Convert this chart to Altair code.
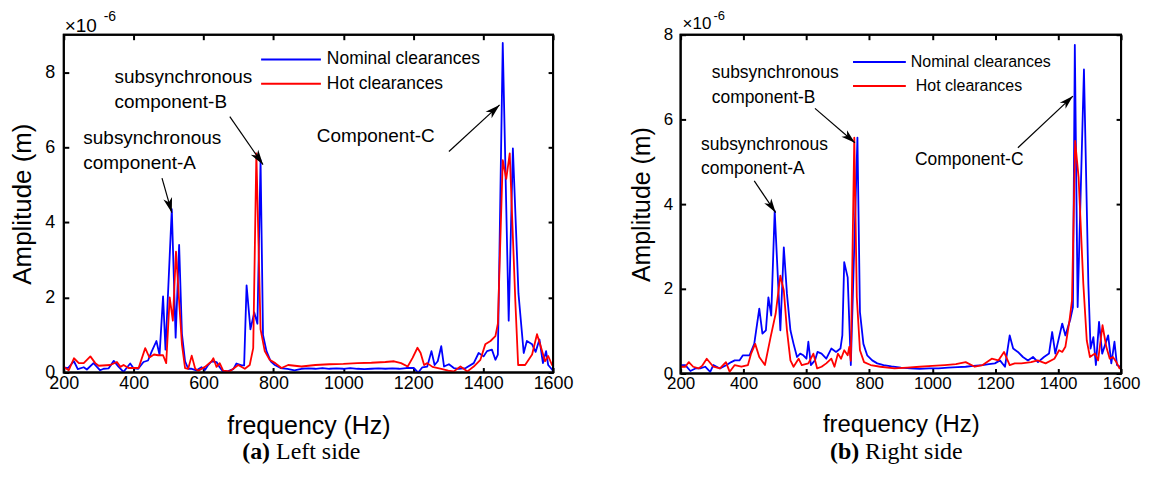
import math
import altair as alt
import pandas as pd

FONT = "Liberation Sans"
SERIF = "Liberation Serif"
INK = "black"
SERIES = ["Nominal clearances", "Hot clearances"]
COLORS = ["#0000ff", "#ff0000"]
XTICKS = [200, 400, 600, 800, 1000, 1200, 1400, 1600]

# ---------------- (a) Left side ----------------
left_nom_f = [200, 212, 229, 240, 257, 266, 285, 304, 314, 328, 343, 357, 371, 390, 399, 413, 428, 441, 451, 465,
              474, 484, 491, 509, 520, 530, 538, 547, 556, 566, 580, 594, 604, 613, 623, 637, 646, 656, 670, 685,
              694, 709, 716, 723, 734, 745, 754, 763, 770, 780, 792, 804, 820, 840, 860, 880, 900, 920, 940, 960,
              980, 1000, 1020, 1040, 1060, 1080, 1100, 1120, 1140, 1160, 1180, 1202, 1214, 1226, 1240, 1252, 1261,
              1270, 1280, 1288, 1302, 1316, 1330, 1350, 1373, 1387, 1401, 1411, 1425, 1435, 1442, 1456, 1473, 1485,
              1501, 1516, 1525, 1540, 1550, 1561, 1571, 1580, 1586, 1597, 1600]
left_nom_v = [0.14, 0.12, 0.30, 0.09, 0.14, 0.08, 0.25, 0.06, 0.10, 0.11, 0.31, 0.15, 0.02, 0.24, 0.12, 0.10, 0.28,
              0.32, 0.55, 0.84, 0.47, 2.03, 0.61, 4.35, 0.93, 3.40, 1.03, 0.30, 0.10, 0.10, 0.06, 0.14, 0.07, 0.20,
              0.30, 0.28, 0.14, 0.02, 0.04, 0.09, 0.24, 0.19, 0.19, 2.32, 1.15, 1.60, 1.30, 5.66, 1.00, 0.57, 0.30,
              0.20, 0.12, 0.10, 0.06, 0.10, 0.11, 0.10, 0.12, 0.10, 0.11, 0.10, 0.12, 0.10, 0.09, 0.10, 0.11, 0.10,
              0.11, 0.10, 0.12, 0.12, 0.00, 0.14, 0.16, 0.57, 0.20, 0.30, 0.70, 0.16, 0.22, 0.12, 0.10, 0.12, 0.25,
              0.52, 0.43, 0.57, 0.61, 0.34, 0.48, 8.78, 1.38, 5.97, 2.10, 0.52, 0.84, 0.75, 0.55, 0.88, 0.25, 0.57,
              0.20, 0.08, 0.05]
left_hot_f = [200, 214, 229, 243, 257, 276, 290, 300, 333, 352, 362, 371, 385, 414, 433, 445, 458, 470, 484, 493,
              503, 512, 521, 530, 538, 547, 556, 566, 576, 585, 604, 623, 628, 637, 646, 656, 675, 685, 699, 718,
              732, 742, 751, 763, 775, 789, 805, 823, 842, 880, 920, 960, 1000, 1040, 1080, 1120, 1145, 1165, 1184,
              1198, 1212, 1221, 1231, 1240, 1255, 1280, 1300, 1316, 1335, 1355, 1373, 1392, 1406, 1421, 1435, 1442,
              1456, 1466, 1476, 1492, 1500, 1520, 1540, 1554, 1563, 1577, 1586, 1597, 1600]
left_hot_v = [0.15, 0.06, 0.38, 0.25, 0.25, 0.43, 0.25, 0.18, 0.20, 0.28, 0.15, 0.20, 0.12, 0.12, 0.65, 0.40, 0.48,
              0.46, 0.46, 0.25, 2.00, 1.38, 3.22, 1.90, 0.75, 0.12, 0.10, 0.45, 0.10, 0.05, 0.15, 0.30, 0.38, 0.15,
              0.25, 0.05, 0.03, 0.10, 0.20, 0.10, 0.20, 0.65, 5.84, 1.15, 0.57, 0.34, 0.25, 0.12, 0.20, 0.16, 0.20,
              0.22, 0.23, 0.25, 0.26, 0.28, 0.30, 0.25, 0.16, 0.39, 0.66, 0.52, 0.20, 0.25, 0.15, 0.10, 0.05, 0.03,
              0.16, 0.03, 0.16, 0.34, 0.75, 0.84, 0.97, 1.30, 5.66, 5.16, 5.84, 1.90, 0.20, 0.20, 0.48, 1.02, 0.75,
              0.30, 0.44, 0.20, 0.18]

# ---------------- (b) Right side ----------------
right_nom_f = [200, 215, 231, 247, 262, 278, 294, 304, 325, 346, 361, 372, 387, 398, 419, 434, 450, 460, 471, 479,
               488, 499, 517, 528, 538, 549, 559, 570, 580, 590, 600, 606, 614, 627, 635, 648, 663, 679, 694, 708,
               714, 720, 731, 741, 762, 770, 781, 793, 809, 825, 845, 870, 900, 930, 960, 990, 1020, 1050, 1080,
               1106, 1130, 1160, 1180, 1199, 1215, 1231, 1246, 1257, 1272, 1288, 1304, 1320, 1336, 1355, 1371, 1381,
               1391, 1413, 1423, 1439, 1447, 1453, 1462, 1482, 1496, 1503, 1512, 1520, 1530, 1540, 1559, 1569, 1579,
               1587, 1597, 1600]
right_nom_v = [0.20, 0.20, 0.06, 0.12, 0.12, 0.16, 0.04, 0.20, 0.12, 0.20, 0.27, 0.31, 0.31, 0.43, 0.43, 0.70, 1.53,
               0.94, 1.02, 1.80, 1.37, 3.84, 1.02, 2.98, 1.88, 1.02, 0.70, 0.39, 0.47, 0.43, 0.35, 0.75, 0.20, 0.31,
               0.51, 0.47, 0.35, 0.59, 0.51, 0.59, 0.90, 2.63, 2.27, 0.20, 5.57, 1.45, 0.70, 0.43, 0.31, 0.24, 0.20,
               0.17, 0.14, 0.12, 0.11, 0.12, 0.12, 0.14, 0.15, 0.16, 0.18, 0.20, 0.22, 0.24, 0.31, 0.16, 0.90, 0.59,
               0.51, 0.39, 0.31, 0.39, 0.27, 0.39, 0.47, 0.98, 0.47, 1.18, 0.90, 1.29, 1.57, 7.76, 1.57, 7.18, 2.12,
               0.59, 0.86, 0.20, 1.22, 0.47, 0.90, 0.24, 0.75, 0.20, 0.16, 0.14]
right_hot_f = [200, 215, 226, 240, 257, 268, 283, 304, 325, 344, 356, 372, 393, 414, 424, 437, 450, 468, 486, 502,
               517, 528, 538, 549, 559, 575, 585, 606, 622, 634, 648, 663, 679, 689, 700, 710, 720, 731, 736, 741,
               752, 760, 770, 783, 804, 835, 880, 920, 960, 1000, 1040, 1075, 1106, 1135, 1160, 1189, 1210, 1228,
               1246, 1262, 1283, 1314, 1335, 1360, 1388, 1403, 1413, 1423, 1436, 1444, 1454, 1465, 1480, 1491, 1501,
               1517, 1527, 1541, 1553, 1564, 1574, 1585, 1595, 1600]
right_hot_v = [0.16, 0.16, 0.27, 0.16, 0.12, 0.18, 0.35, 0.16, 0.12, 0.27, 0.04, 0.20, 0.16, 0.20, 0.47, 0.70, 0.39,
               0.20, 0.86, 1.41, 2.31, 1.96, 1.02, 0.31, 0.16, 0.35, 0.20, 0.24, 0.47, 0.12, 0.16, 0.24, 0.35, 0.16,
               0.47, 0.35, 0.55, 0.43, 0.63, 0.30, 5.57, 1.80, 0.55, 0.27, 0.20, 0.16, 0.12, 0.14, 0.16, 0.18, 0.20,
               0.22, 0.27, 0.16, 0.20, 0.35, 0.31, 0.51, 0.20, 0.24, 0.24, 0.27, 0.31, 0.24, 0.35, 0.55, 0.51, 0.63,
               1.25, 1.73, 5.49, 4.63, 2.12, 0.78, 0.39, 0.47, 0.31, 1.14, 0.63, 0.35, 0.39, 0.27, 0.12, 0.14]

# annotation texts (left-aligned lines) in data units
left_note_text = ["subsynchronous", "component-B", "subsynchronous", "component-A", "Component-C"]
left_note_x = [345, 345, 256, 256, 924]
left_note_y = [7.88, 7.22, 6.24, 5.57, 6.29]
right_note_text = ["subsynchronous", "component-B", "subsynchronous", "component-A", "Component-C"]
right_note_x = [299, 299, 265, 265, 945]
right_note_y = [7.09, 6.50, 5.40, 4.84, 5.03]

# arrows: start (x0, y0) -> tip (x1, y1), data units
left_arrow_x0 = [481, 675, 1302]
left_arrow_y0 = [5.18, 6.82, 5.89]
left_arrow_x1 = [509, 770, 1447]
left_arrow_y1 = [4.26, 5.54, 7.13]
right_arrow_x0 = [434, 627, 1272]
right_arrow_y0 = [4.55, 6.26, 5.33]
right_arrow_x1 = [502, 754, 1447]
right_arrow_y1 = [3.80, 5.45, 6.55]

ARROW_PATH = "M0,0L-0.6,2L0,1.45L0.6,2Z"


def make_panel(P):
    W, H = P["w"], P["h"]
    ymax = P["ymax"]
    xs = alt.Scale(domain=[200, 1600], nice=False, zero=False)
    ys = alt.Scale(domain=[0, ymax], nice=False, zero=False)
    tick_common = dict(grid=False, domain=False, ticks=True, tickSize=5, tickWidth=2, tickColor=INK, offset=-5)
    x_bottom = alt.Axis(values=XTICKS, format="d", title="frequency (Hz)", labelFlush=False, labelFont=FONT,
                        labelFontSize=P["tick_fs"], labelColor="black", labelPadding=2, titleFont=FONT,
                        titleFontSize=P["xt_fs"], titleFontWeight="normal", titleColor="black",
                        titlePadding=P["xt_pad"], **tick_common)
    y_left = alt.Axis(values=P["yticks"], format="d", title="Amplitude (m)", labelFlush=False, labelFont=FONT,
                      labelFontSize=P["tick_fs"], labelColor="black", labelPadding=P["ylab_pad"], titleFont=FONT,
                      titleFontSize=P["yt_fs"], titleFontWeight="normal", titleColor="black",
                      titlePadding=P["yt_pad"], **tick_common)
    x_top = alt.Axis(orient="top", values=XTICKS, labels=False, title=None, **tick_common)
    y_right = alt.Axis(orient="right", values=P["yticks"], labels=False, title=None, **tick_common)

    def X(field, axis=None):
        return alt.X(field, type="quantitative", scale=xs, axis=axis)

    def Y(field, axis=None):
        return alt.Y(field, type="quantitative", scale=ys, axis=axis)

    layers = []
    nom = pd.DataFrame({"f": P["nom_f"], "v": P["nom_v"]})
    hot = pd.DataFrame({"f": P["hot_f"], "v": P["hot_v"]})
    # spectra (blue first, red drawn on top)
    layers.append(alt.Chart(nom).mark_line(color=COLORS[0], strokeWidth=1.8, strokeJoin="round")
                  .encode(x=X("f", x_bottom), y=Y("v", y_left)))
    layers.append(alt.Chart(hot).mark_line(color=COLORS[1], strokeWidth=1.8, strokeJoin="round")
                  .encode(x=X("f"), y=Y("v")))
    # invisible layer that only carries the mirrored (top / right) inward tick marks
    layers.append(alt.Chart(hot).mark_line(strokeOpacity=0, opacity=0)
                  .encode(x=X("f", x_top), y=Y("v", y_right)))

    # box frame drawn as a mark as well (same edges as the view border)
    box = pd.DataFrame({"bx": [200], "bx2": [1600], "by": [0], "by2": [ymax]})
    layers.append(alt.Chart(box).mark_rect(fill="transparent", stroke=INK, strokeWidth=2)
                  .encode(x=X("bx"), x2="bx2", y=Y("by"), y2="by2"))

    # annotations
    notes = pd.DataFrame({"label": P["note_text"], "nx": P["note_x"], "ny": P["note_y"]})
    layers.append(alt.Chart(notes).mark_text(align="left", baseline="middle", font=FONT,
                                             fontSize=P["note_fs"], color="black")
                  .encode(x=X("nx"), y=Y("ny"), text="label:N"))

    # arrows
    sx = W / 1400.0
    sy = H / ymax
    angles = []
    for x0, y0, x1, y1 in zip(P["ax0"], P["ay0"], P["ax1"], P["ay1"]):
        dx = (x1 - x0) * sx
        dy = -(y1 - y0) * sy
        angles.append((math.degrees(math.atan2(dx, -dy)) + 360) % 360)
    arr = pd.DataFrame({"x0": P["ax0"], "y0": P["ay0"], "x1": P["ax1"], "y1": P["ay1"], "ang": angles})
    layers.append(alt.Chart(arr).mark_rule(color="black", strokeWidth=1.2)
                  .encode(x=X("x0"), y=Y("y0"), x2="x1", y2="y1"))
    layers.append(alt.Chart(arr).mark_point(shape=ARROW_PATH, filled=True, size=P["head"], color="black",
                                            opacity=1, strokeWidth=0)
                  .encode(x=X("x1"), y=Y("y1"), angle=alt.Angle("ang:Q", scale=None)))

    # legend (drawn manually)
    lx0, lx1, ly0, dy_ = P["leg"]
    for i, (name, c) in enumerate(zip(SERIES, COLORS)):
        d = pd.DataFrame({"name": [name]})
        layers.append(alt.Chart(d).mark_rule(color=c, strokeWidth=2)
                      .encode(x=alt.value(lx0), x2=alt.value(lx1), y=alt.value(ly0 + i * dy_)))
        layers.append(alt.Chart(d).mark_text(align="left", baseline="middle", font=FONT,
                                             fontSize=P["leg_fs"], color="black")
                      .encode(x=alt.value(lx1 + P["leg_off"][i]), y=alt.value(ly0 + i * dy_), text="name:N"))

    # exponent label
    ex = P["exp"]
    layers.append(alt.Chart(pd.DataFrame({"t": ["\u00d710"]})).mark_text(
        align="left", baseline="middle", font=FONT, fontSize=ex[2], color="black")
        .encode(x=alt.value(ex[0]), y=alt.value(ex[1]), text="t:N"))
    layers.append(alt.Chart(pd.DataFrame({"t": ["-6"]})).mark_text(
        align="left", baseline="middle", font=FONT, fontSize=ex[5], color="black")
        .encode(x=alt.value(ex[3]), y=alt.value(ex[4]), text="t:N"))

    # caption "(a) Left side"
    cap = P["cap"]
    layers.append(alt.Chart(pd.DataFrame({"t": [cap[0]]})).mark_text(
        align="left", baseline="middle", font=SERIF, fontSize=cap[4], fontWeight="bold", color="black")
        .encode(x=alt.value(cap[2]), y=alt.value(cap[5]), text="t:N"))
    layers.append(alt.Chart(pd.DataFrame({"t": [cap[1]]})).mark_text(
        align="left", baseline="middle", font=SERIF, fontSize=cap[4], color="black")
        .encode(x=alt.value(cap[3]), y=alt.value(cap[5]), text="t:N"))

    return (alt.layer(*layers).properties(width=W, height=H)
            .resolve_axis(x="independent", y="independent"))


left = make_panel(dict(
    w=491, h=339, ymax=9, yticks=[0, 2, 4, 6, 8],
    nom_f=left_nom_f, nom_v=left_nom_v, hot_f=left_hot_f, hot_v=left_hot_v,
    note_text=left_note_text, note_x=left_note_x, note_y=left_note_y, note_fs=19,
    ax0=left_arrow_x0, ay0=left_arrow_y0, ax1=left_arrow_x1, ay1=left_arrow_y1, head=225,
    leg=(198, 258, 24.8, 24.4), leg_fs=17.5, leg_off=[6, 6],
    exp=(1, -9, 19, 40, -18, 14),
    cap=("(a)", "Left side", 179, 213, 24, 419),
    tick_fs=18, xt_fs=25, xt_pad=21, yt_fs=26, yt_pad=9, ylab_pad=9,
))

right = make_panel(dict(
    w=442, h=340, ymax=8, yticks=[0, 2, 4, 6, 8],
    nom_f=right_nom_f, nom_v=right_nom_v, hot_f=right_hot_f, hot_v=right_hot_v,
    note_text=right_note_text, note_x=right_note_x, note_y=right_note_y, note_fs=17.5,
    ax0=right_arrow_x0, ay0=right_arrow_y0, ax1=right_arrow_x1, ay1=right_arrow_y1, head=200,
    leg=(173, 226, 27.5, 24), leg_fs=16, leg_off=[5, 10],
    exp=(2, -11, 17, 33, -19, 13),
    cap=("(b)", "Right side", 150, 185, 24, 419),
    tick_fs=17, xt_fs=24, xt_pad=21, yt_fs=25, yt_pad=9, ylab_pad=8,
))

chart = (alt.hconcat(left, right, spacing=53)
         .configure_view(stroke=INK, strokeWidth=2)
         .properties(padding=0, background="white"))

chart.save("out.html", embed_options={"renderer": "svg", "actions": False})
